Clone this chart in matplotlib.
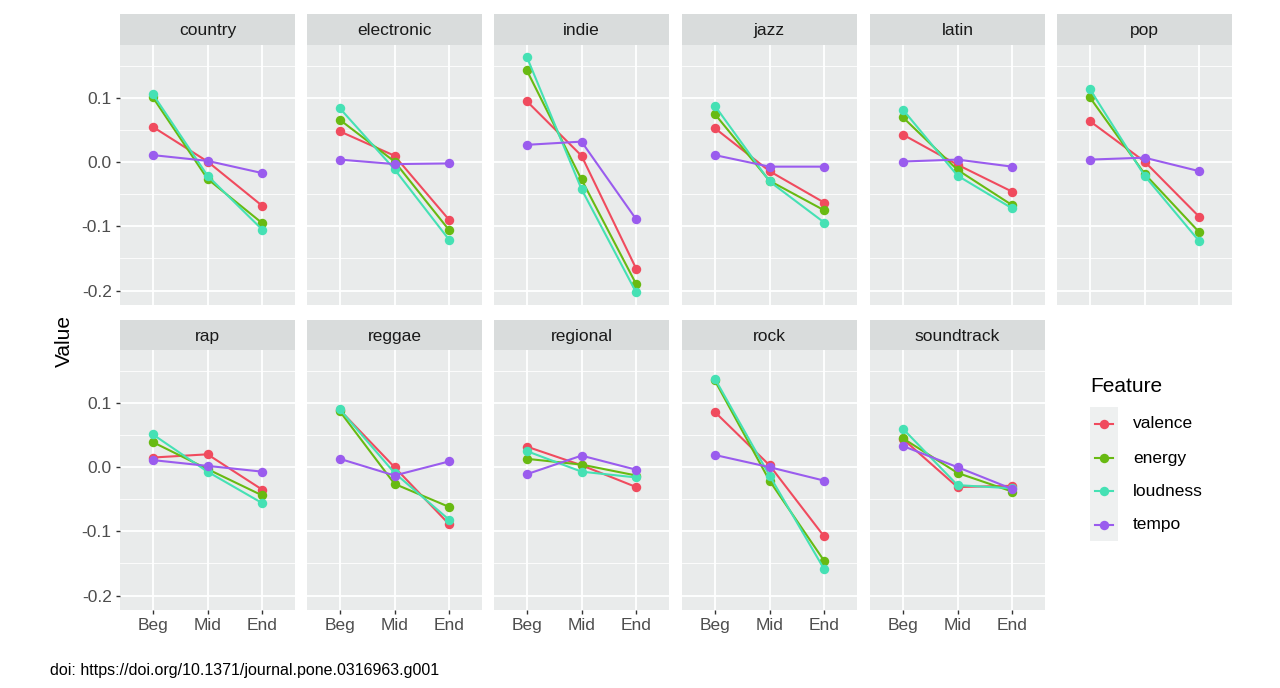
import matplotlib
matplotlib.use('Agg')
import matplotlib.pyplot as plt
from matplotlib.lines import Line2D
from matplotlib.patches import Rectangle

plt.rcParams['font.family'] = ['Liberation Sans', 'DejaVu Sans']

# Data
stages = ['Beg', 'Mid', 'End']
features = ['valence', 'energy', 'loudness', 'tempo']
colors = ['#F04B5E', '#68BA12', '#45E1B4', '#9A5CEE']

genres_top = ['country', 'electronic', 'indie', 'jazz', 'latin', 'pop']
genres_bottom = ['rap', 'reggae', 'regional', 'rock', 'soundtrack']

# values per genre: valence, energy, loudness, tempo (Beg, Mid, End)
country_vals = [[0.055, 0.001, -0.068], [0.101, -0.026, -0.095], [0.106, -0.021, -0.105], [0.011, 0.002, -0.017]]
electronic_vals = [[0.048, 0.010, -0.090], [0.066, 0.001, -0.106], [0.084, -0.011, -0.121], [0.004, -0.003, -0.002]]
indie_vals = [[0.095, 0.010, -0.166], [0.143, -0.027, -0.190], [0.164, -0.042, -0.203], [0.027, 0.032, -0.089]]
jazz_vals = [[0.053, -0.014, -0.063], [0.075, -0.029, -0.075], [0.088, -0.030, -0.094], [0.011, -0.007, -0.007]]
latin_vals = [[0.043, -0.004, -0.046], [0.070, -0.012, -0.067], [0.082, -0.021, -0.072], [0.001, 0.004, -0.007]]
pop_vals = [[0.064, 0.001, -0.085], [0.101, -0.018, -0.109], [0.114, -0.021, -0.123], [0.004, 0.007, -0.014]]
rap_vals = [[0.015, 0.020, -0.035], [0.039, -0.003, -0.044], [0.051, -0.007, -0.056], [0.011, 0.002, -0.007]]
reggae_vals = [[0.089, 0.000, -0.089], [0.087, -0.026, -0.062], [0.090, -0.009, -0.082], [0.013, -0.013, 0.009]]
regional_vals = [[0.032, 0.003, -0.031], [0.013, 0.004, -0.013], [0.025, -0.007, -0.016], [-0.011, 0.018, -0.004]]
rock_vals = [[0.086, 0.003, -0.108], [0.135, -0.021, -0.146], [0.138, -0.013, -0.159], [0.019, 0.000, -0.021]]
soundtrack_vals = [[0.044, -0.031, -0.029], [0.045, -0.009, -0.038], [0.060, -0.028, -0.033], [0.033, 0.000, -0.034]]

all_vals = {
    'country': country_vals, 'electronic': electronic_vals, 'indie': indie_vals,
    'jazz': jazz_vals, 'latin': latin_vals, 'pop': pop_vals,
    'rap': rap_vals, 'reggae': reggae_vals, 'regional': regional_vals,
    'rock': rock_vals, 'soundtrack': soundtrack_vals,
}

W, H = 1280, 688
fig = plt.figure(figsize=(W / 100, H / 100), dpi=100)
fig.patch.set_facecolor('white')

col_x = [120, 307, 494, 682, 870, 1057]
panel_w = 175
rows = [(45, 305, 14), (350, 610, 320)]  # panel top, panel bottom, strip top

PANEL_BG = '#E9EBEB'
STRIP_BG = '#D9DCDC'
TICK_COL = '#4D4D4D'

x = [1, 2, 3]


def px_axes(left, top, right, bottom):
    return fig.add_axes([left / W, 1 - bottom / H, (right - left) / W, (bottom - top) / H])


for r, genres in enumerate([genres_top, genres_bottom]):
    ptop, pbot, stop = rows[r]
    for c, g in enumerate(genres):
        left = col_x[c]
        ax = px_axes(left, ptop, left + panel_w, pbot)
        ax.set_facecolor(PANEL_BG)
        for s in ax.spines.values():
            s.set_visible(False)
        ax.set_xlim(0.4, 3.6)
        ax.set_ylim(-0.2225, 0.1825)
        # grid
        for yv in [-0.15, -0.05, 0.05, 0.15]:
            ax.axhline(yv, color='white', lw=0.6, zorder=0)
        for yv in [-0.2, -0.1, 0.0, 0.1]:
            ax.axhline(yv, color='white', lw=1.3, zorder=0)
        for xv in x:
            ax.axvline(xv, color='white', lw=1.3, zorder=0)

        for f, col, vals in zip(features, colors, all_vals[g]):
            ax.plot(x, vals, color=col, lw=1.5, marker='o', ms=6.8,
                    markeredgewidth=0, zorder=3, label=f)

        ax.set_yticks([-0.2, -0.1, 0.0, 0.1])
        ax.set_xticks(x)
        ax.tick_params(axis='both', colors='#333333', length=3, width=1,
                       labelsize=12.5, labelcolor=TICK_COL, pad=3)
        if c == 0:
            ax.set_yticklabels(['-0.2', '-0.1', '0.0', '0.1'])
        else:
            ax.tick_params(axis='y', length=0, labelleft=False)
        if r == 1:
            ax.set_xticklabels(stages)
        else:
            ax.tick_params(axis='x', length=0, labelbottom=False)

        # strip
        sax = px_axes(left, stop, left + panel_w, ptop)
        sax.set_facecolor(STRIP_BG)
        sax.set_xticks([])
        sax.set_yticks([])
        for s in sax.spines.values():
            s.set_visible(False)
        sax.text(0.5, 0.46, g, ha='center', va='center', fontsize=12.5,
                 color='#1A1A1A', transform=sax.transAxes)

# y axis title
fig.text(64 / W, 1 - 341 / H, 'Value', rotation=90, ha='center', va='center',
         fontsize=15, color='black')

# legend
fig.text(1090 / W, 1 - 387 / H, 'Feature', ha='left', va='center', fontsize=15)
fig.patches.append(Rectangle((1090 / W, 1 - 541 / H), 28 / W, 134 / H,
                             transform=fig.transFigure, facecolor='#EEF0F0',
                             edgecolor='none', zorder=0))
key_y = [424, 458, 491, 525]
for f, col, ky in zip(features, colors, key_y):
    fig.add_artist(Line2D([1095 / W, 1113 / W], [1 - ky / H, 1 - ky / H],
                          color=col, lw=1.5, transform=fig.transFigure))
    fig.add_artist(Line2D([1104 / W], [1 - ky / H], color=col, marker='o', ms=6.8,
                          markeredgewidth=0, transform=fig.transFigure))
    fig.text(1133 / W, 1 - ky / H, f, ha='left', va='center', fontsize=12.5)

# doi footer
fig.text(50 / W, 1 - 671 / H, 'doi: https://doi.org/10.1371/journal.pone.0316963.g001',
         ha='left', va='center', fontsize=11.5, color='black')

fig.savefig('out.png', dpi=100)
